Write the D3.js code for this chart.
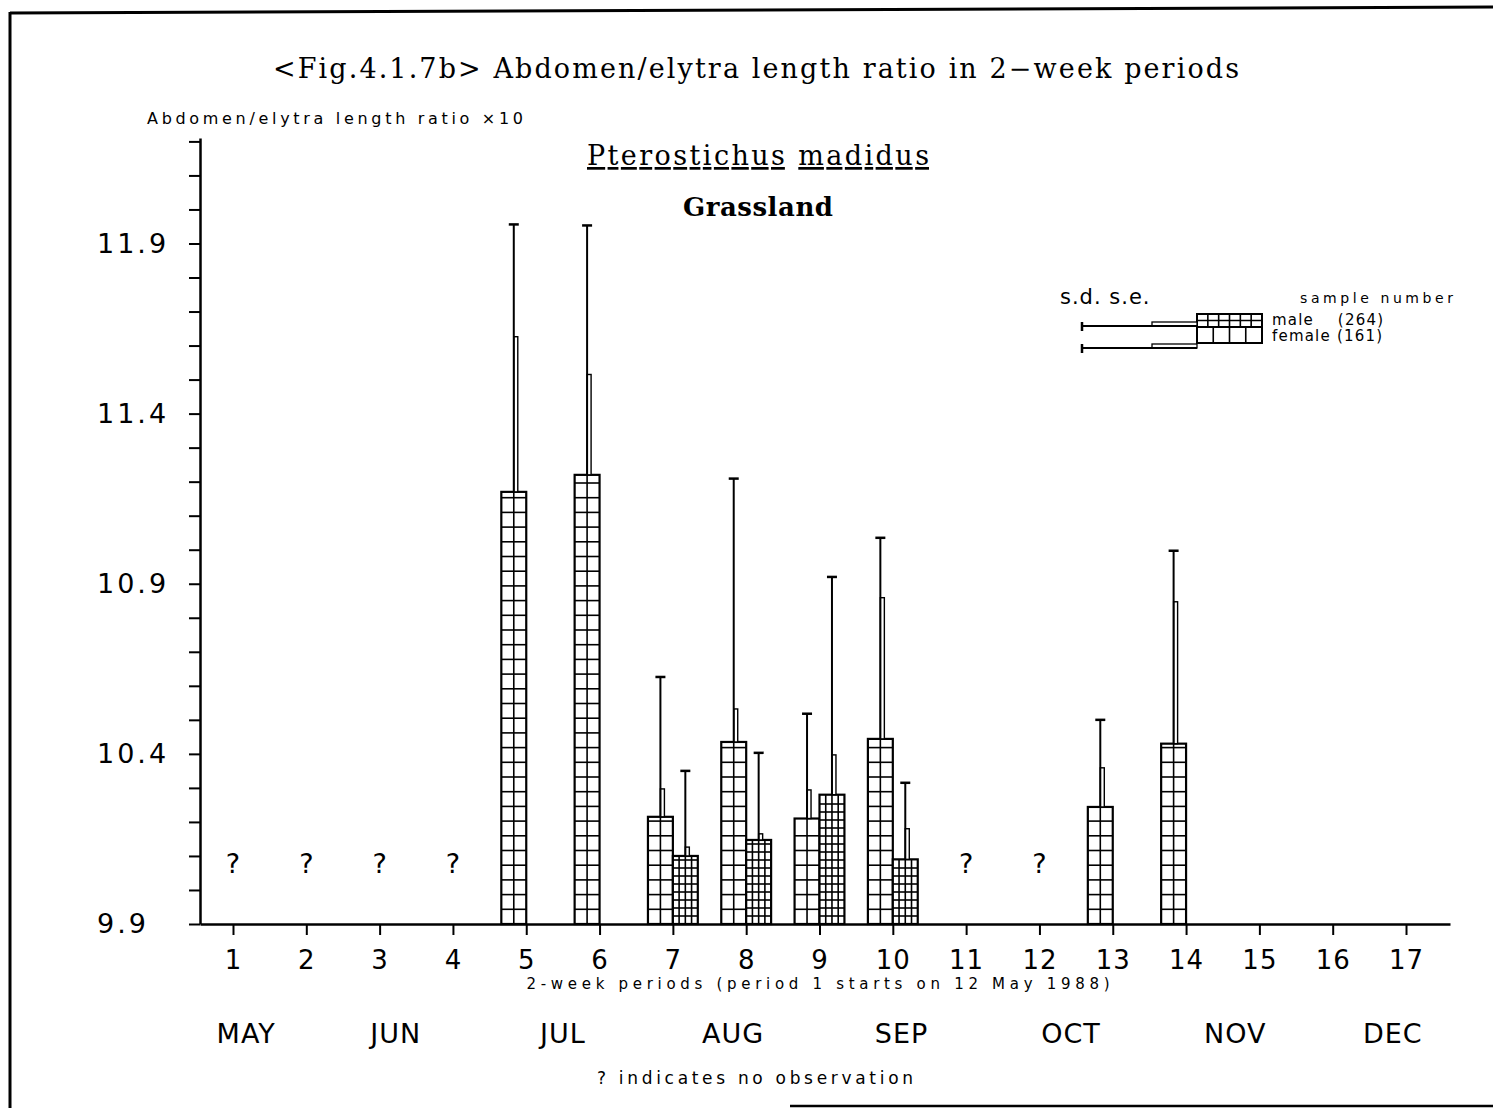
<!DOCTYPE html>
<html>
<head>
<meta charset="utf-8">
<script src="https://cdn.jsdelivr.net/npm/d3@7"></script>
<style>
body { margin: 0; background: #fff; }
svg { display: block; }
</style>
</head>
<body>
<script>
var WIDTH = 1493, HEIGHT = 1108;

// data
var periods = d3.range(1, 18);
var noObsPeriods = [1, 2, 3, 4, 11, 12];
// coarse grid bars, left of the tick
var femalePeriods = [5, 6, 7, 8, 9, 10, 13, 14];
var femaleMean = [11.17, 11.22, 10.215, 10.435, 10.21, 10.444, 10.244, 10.43];
var femaleSd = [0.786, 0.733, 0.411, 0.774, 0.308, 0.591, 0.256, 0.567];
var femaleSe = [0.456, 0.295, 0.082, 0.097, 0.084, 0.415, 0.115, 0.417];
// fine grid bars, right of the tick
var malePeriods = [7, 8, 9, 10];
var maleMean = [10.10, 10.147, 10.28, 10.09];
var maleSd = [0.25, 0.256, 0.64, 0.225];
var maleSe = [0.026, 0.018, 0.117, 0.09];
var yMajor = [9.9, 10.4, 10.9, 11.4, 11.9];
var yMinor = d3.range(99, 123).map(function (k) { return k / 10; });
var months = ['MAY', 'JUN', 'JUL', 'AUG', 'SEP', 'OCT', 'NOV', 'DEC'];
var monthAt = [1.18, 3.22, 5.5, 7.82, 10.12, 12.43, 14.67, 16.82];
var sampleN = { male: 264, female: 161 };

var female = femalePeriods.map(function (p, i) {
    return { p: p, mean: femaleMean[i], sd: femaleSd[i], se: femaleSe[i] };
});
var male = malePeriods.map(function (p, i) {
    return { p: p, mean: maleMean[i], sd: maleSd[i], se: maleSe[i] };
});

var SANS = 'DejaVu Sans, sans-serif';
var SERIF = 'DejaVu Serif, serif';

var svg = d3.select('body').append('svg').attr('width', WIDTH).attr('height', HEIGHT);

var x = d3.scaleLinear().domain([0.55, 17.6]).range([200, 1450]);
var y = d3.scaleLinear().domain([9.9, 12.21]).range([924, 138]);
var bw = x(1.34) - x(1);

// page frame
svg.append('line').attr('x1', 10).attr('y1', 13).attr('x2', WIDTH).attr('y2', 7)
    .attr('stroke', '#000').attr('stroke-width', 3);
svg.append('line').attr('x1', 10).attr('y1', 12).attr('x2', 10).attr('y2', HEIGHT)
    .attr('stroke', '#000').attr('stroke-width', 3);
svg.append('line').attr('x1', 790).attr('y1', 1106).attr('x2', WIDTH).attr('y2', 1106)
    .attr('stroke', '#000').attr('stroke-width', 2.5);

// titles
svg.append('text').attr('x', 756).attr('y', 78).attr('text-anchor', 'middle')
    .attr('font-family', SERIF).attr('font-size', 27)
    .attr('textLength', 966).attr('lengthAdjust', 'spacing')
    .text('<Fig.4.1.7b> Abdomen/elytra length ratio in 2\u2212week periods');

var sp = svg.append('text').attr('x', 758).attr('y', 165).attr('text-anchor', 'middle')
    .attr('font-family', SERIF).attr('font-size', 27)
    .attr('textLength', 342).attr('lengthAdjust', 'spacing');
sp.append('tspan').attr('text-decoration', 'underline').text('Pterostichus');
sp.append('tspan').text(' ');
sp.append('tspan').attr('text-decoration', 'underline').text('madidus');

svg.append('text').attr('x', 758).attr('y', 216).attr('text-anchor', 'middle')
    .attr('font-family', SERIF).attr('font-size', 26).attr('font-weight', 'bold')
    .attr('textLength', 150).attr('lengthAdjust', 'spacing')
    .text('Grassland');

svg.append('text').attr('x', 147).attr('y', 124)
    .attr('font-family', SANS).attr('font-size', 16)
    .attr('textLength', 376).attr('lengthAdjust', 'spacing')
    .text('Abdomen/elytra length ratio \u00d710');

// axes
var yAxis = d3.axisLeft(y).tickValues(yMinor).tickSize(11).tickSizeOuter(0)
    .tickFormat(function (d) {
        return yMajor.some(function (m) { return Math.abs(m - d) < 1e-6; }) ? d.toFixed(1) : '';
    });
var gy = svg.append('g').attr('transform', 'translate(200,0)').call(yAxis);
gy.select('.domain').attr('stroke-width', 2.5);
gy.selectAll('.tick line').attr('stroke-width', 2);
gy.selectAll('.tick text').attr('x', -103).attr('text-anchor', 'start')
    .attr('font-family', SANS).attr('font-size', 27)
    .attr('letter-spacing', 3).attr('fill', '#000');

var xAxis = d3.axisBottom(x).tickValues(periods).tickSize(11).tickSizeOuter(0)
    .tickFormat(d3.format('d'));
var gx = svg.append('g').attr('transform', 'translate(0,924)').call(xAxis);
gx.select('.domain').attr('stroke-width', 2.5);
gx.selectAll('.tick line').attr('stroke-width', 2);
gx.selectAll('.tick text').attr('y', 27).attr('font-family', SANS).attr('font-size', 26)
    .attr('letter-spacing', 1).attr('fill', '#000');

svg.append('text').attr('x', 818).attr('y', 989).attr('text-anchor', 'middle')
    .attr('font-family', SANS).attr('font-size', 15)
    .attr('textLength', 583).attr('lengthAdjust', 'spacing')
    .text('2-week periods (period 1 starts on 12 May 1988)');

svg.append('g').selectAll('text').data(months).join('text')
    .attr('x', function (d, i) { return x(monthAt[i]); })
    .attr('y', 1043).attr('text-anchor', 'middle')
    .attr('font-family', SANS).attr('font-size', 27).attr('letter-spacing', 1)
    .text(function (d) { return d; });

svg.append('text').attr('x', 755).attr('y', 1084).attr('text-anchor', 'middle')
    .attr('font-family', SANS).attr('font-size', 17)
    .attr('textLength', 316).attr('lengthAdjust', 'spacing')
    .text('? indicates no observation');

// no-observation marks
svg.append('g').selectAll('text').data(noObsPeriods).join('text')
    .attr('x', function (d) { return x(d); }).attr('y', y(10.05))
    .attr('text-anchor', 'middle').attr('font-family', SANS).attr('font-size', 27)
    .text('?');

// bars with drawn-in grid
function drawBars(data, side, cols, rowH) {
    var g = svg.append('g');
    var bars = g.selectAll('g').data(data).join('g');
    bars.each(function (d) {
        var sel = d3.select(this);
        var x0 = side < 0 ? x(d.p) - bw : x(d.p);
        var yt = y(d.mean), yb = y(9.9);
        var cx = x0 + bw / 2;
        sel.append('rect').attr('x', x0).attr('y', yt).attr('width', bw).attr('height', yb - yt)
            .attr('fill', '#fff').attr('stroke', 'none');
        var colXs = d3.range(1, cols).map(function (i) { return x0 + i * bw / cols; });
        sel.selectAll('line.c').data(colXs).join('line').attr('class', 'c')
            .attr('x1', function (v) { return v; }).attr('x2', function (v) { return v; })
            .attr('y1', yt).attr('y2', yb).attr('stroke', '#000').attr('stroke-width', 1.6);
        var rowYs = d3.range(yb - rowH, yt + 3, -rowH);
        sel.selectAll('line.r').data(rowYs).join('line').attr('class', 'r')
            .attr('x1', x0).attr('x2', x0 + bw)
            .attr('y1', function (v) { return v; }).attr('y2', function (v) { return v; })
            .attr('stroke', '#000').attr('stroke-width', 1.6);
        sel.append('rect').attr('x', x0).attr('y', yt).attr('width', bw).attr('height', yb - yt)
            .attr('fill', 'none').attr('stroke', '#000').attr('stroke-width', 2.2);
        // s.e. strip and s.d. whisker
        sel.append('rect').attr('x', cx).attr('y', y(d.mean + d.se)).attr('width', 4)
            .attr('height', yt - y(d.mean + d.se))
            .attr('fill', '#fff').attr('stroke', '#000').attr('stroke-width', 1.4);
        sel.append('line').attr('x1', cx).attr('x2', cx).attr('y1', yt).attr('y2', y(d.mean + d.sd))
            .attr('stroke', '#000').attr('stroke-width', 2);
        sel.append('line').attr('x1', cx - 5).attr('x2', cx + 5)
            .attr('y1', y(d.mean + d.sd)).attr('y2', y(d.mean + d.sd))
            .attr('stroke', '#000').attr('stroke-width', 2.5);
    });
}
drawBars(female, -1, 2, 14.7);
drawBars(male, 1, 4, 8);

// legend
var lg = svg.append('g');
lg.append('text').attr('x', 1060).attr('y', 304).attr('font-family', SANS).attr('font-size', 21)
    .attr('letter-spacing', 1).text('s.d. s.e.');
lg.append('text').attr('x', 1300).attr('y', 303).attr('font-family', SANS).attr('font-size', 14)
    .attr('textLength', 153).attr('lengthAdjust', 'spacing').text('sample number');

function legendRow(y0, h, cols, split, lineY, label) {
    var bx = 1197, bwid = 65;
    lg.append('rect').attr('x', bx).attr('y', y0).attr('width', bwid).attr('height', h)
        .attr('fill', '#fff').attr('stroke', '#000').attr('stroke-width', 2);
    d3.range(1, cols).forEach(function (i) {
        lg.append('line').attr('x1', bx + i * bwid / cols).attr('x2', bx + i * bwid / cols)
            .attr('y1', y0).attr('y2', y0 + h).attr('stroke', '#000').attr('stroke-width', 1.6);
    });
    if (split) {
        lg.append('line').attr('x1', bx).attr('x2', bx + bwid).attr('y1', y0 + h / 2).attr('y2', y0 + h / 2)
            .attr('stroke', '#000').attr('stroke-width', 1.6);
    }
    lg.append('rect').attr('x', 1152).attr('y', lineY - 4).attr('width', bx - 1152).attr('height', 4)
        .attr('fill', '#fff').attr('stroke', '#000').attr('stroke-width', 1.3);
    lg.append('line').attr('x1', 1082).attr('x2', bx).attr('y1', lineY).attr('y2', lineY)
        .attr('stroke', '#000').attr('stroke-width', 1.8);
    lg.append('line').attr('x1', 1082).attr('x2', 1082).attr('y1', lineY - 4).attr('y2', lineY + 5)
        .attr('stroke', '#000').attr('stroke-width', 2.5);
    lg.append('text').attr('x', 1272).attr('y', y0 + h - 2).attr('font-family', SANS).attr('font-size', 15)
        .attr('letter-spacing', 1.2).style('white-space', 'pre').text(label);
}
legendRow(314, 13, 6, true, 326, 'male    (' + sampleN.male + ')');
legendRow(327, 16, 4, false, 348, 'female (' + sampleN.female + ')');
</script>
</body>
</html>
